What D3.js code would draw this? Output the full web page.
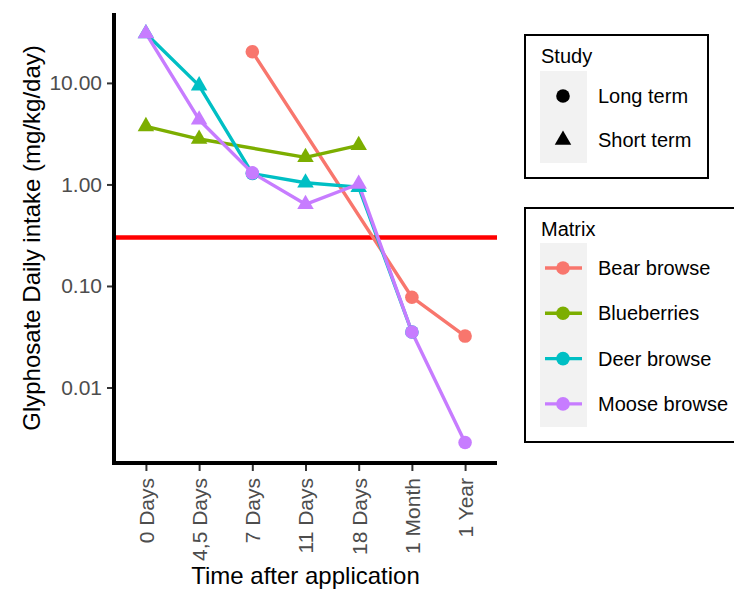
<!DOCTYPE html>
<html lang="en">
<head>
<meta charset="utf-8">
<script src="https://cdn.jsdelivr.net/npm/d3@7"></script>
<style type="text/css">
body {
	margin: 0;
	background: #fff;
	font-family: "Liberation Sans", Arial, sans-serif;
}
</style>
</head>
<body>
<script type="text/javascript">

// categories on the x axis and which study each time point comes from
var times = ["0 Days", "4,5 Days", "7 Days", "11 Days", "18 Days", "1 Month", "1 Year"];
var study = ["Short term", "Short term", "Long term", "Short term", "Short term", "Long term", "Long term"];

// series values (null = no measurement)
var matrices = ["Bear browse", "Blueberries", "Deer browse", "Moose browse"];
var bearBrowse  = [null, null, 20.3, null, null, 0.0775, 0.0321];
var blueberries = [3.73, 2.8, null, 1.85, 2.43, null, null];
var deerBrowse  = [30.7, 9.4, 1.28, 1.04, 0.94, 0.0352, null];
var mooseBrowse = [30.7, 4.34, 1.30, 0.637, 1.01, 0.0352, 0.00287];

var yTicks = [10, 1, 0.1, 0.01];
var limit = 0.3;   // red reference line

var colors = ["#F8766D", "#7CAE00", "#00BFC4", "#C77CFF"];
var allSeries = [bearBrowse, blueberries, deerBrowse, mooseBrowse];

var width = 734;
var height = 590;

// panel edges
var pLeft = 114, pRight = 497, pTop = 13, pBottom = 463;

var svg = d3.select("body")
			.append("svg")
			.attr("width", width)
			.attr("height", height);

var x = d3.scalePoint()
		  .domain(times)
		  .range([pLeft, pRight])
		  .padding(0.6);

// log scale, ggplot style 5% expansion of data range
var allVals = [].concat(bearBrowse, blueberries, deerBrowse, mooseBrowse).filter(v => v != null);
var lmin = Math.log10(d3.min(allVals)), lmax = Math.log10(d3.max(allVals));
var pad = (lmax - lmin) * 0.05;
var y = d3.scaleLog()
		  .domain([Math.pow(10, lmin - pad), Math.pow(10, lmax + pad)])
		  .range([pBottom, pTop]);

// reference line
svg.append("line")
	.attr("x1", pLeft).attr("x2", pRight)
	.attr("y1", y(limit)).attr("y2", y(limit))
	.style("stroke", "#FF0000")
	.style("stroke-width", 4.5);

// one line per matrix, skipping missing values
var line = d3.line()
	.defined(d => d.v != null)
	.x(d => x(d.t))
	.y(d => y(d.v));

var seriesData = allSeries.map(function(vals, i) {
	return {
		name: matrices[i],
		color: colors[i],
		points: vals.map((v, j) => ({t: times[j], v: v, study: study[j]})).filter(d => d.v != null)
	};
});

svg.selectAll("path.series")
	.data(seriesData)
	.enter()
	.append("path")
	.attr("class", "series")
	.attr("d", d => line(d.points))
	.style("fill", "none")
	.style("stroke", d => d.color)
	.style("stroke-width", 3.4)
	.style("stroke-linejoin", "round");

var circleSym = d3.symbol().type(d3.symbolCircle).size(145);
var triSym = d3.symbol().type(d3.symbolTriangle).size(118);

seriesData.forEach(function(s) {
	svg.append("g")
		.selectAll("path")
		.data(s.points)
		.enter()
		.append("path")
		.attr("transform", d => "translate(" + x(d.t) + "," + y(d.v) + ")")
		.attr("d", d => d.study == "Long term" ? circleSym() : triSym())
		.style("fill", s.color);
});

// axes
var yAxis = d3.axisLeft(y)
	.tickValues(yTicks)
	.tickFormat(d3.format(".2f"))
	.tickSize(6)
	.tickPadding(5);

var gy = svg.append("g")
	.attr("transform", "translate(" + (pLeft - 1) + ",0)")
	.call(yAxis);
gy.select(".domain").remove();
gy.selectAll(".tick line").style("stroke", "#333").style("stroke-width", 2);
gy.selectAll(".tick text")
	.style("font-size", "21px")
	.style("fill", "#4D4D4D")
	.style("font-family", "Liberation Sans, Arial, sans-serif");

var xAxis = d3.axisBottom(x).tickSize(7).tickPadding(0);
var gx = svg.append("g")
	.attr("transform", "translate(0," + (pBottom + 1) + ")")
	.call(xAxis);
gx.select(".domain").remove();
gx.selectAll(".tick line").style("stroke", "#333").style("stroke-width", 2);
gx.selectAll(".tick text")
	.attr("transform", "translate(0,14) rotate(-90)")
	.attr("x", 0)
	.attr("y", 0)
	.attr("dy", "0.35em")
	.style("text-anchor", "end")
	.style("font-size", "21px")
	.style("fill", "#4D4D4D")
	.style("font-family", "Liberation Sans, Arial, sans-serif");

// thick axis lines
svg.append("line")
	.attr("x1", pLeft).attr("x2", pLeft)
	.attr("y1", pTop).attr("y2", pBottom + 2)
	.style("stroke", "#000").style("stroke-width", 4);
svg.append("line")
	.attr("x1", pLeft - 2).attr("x2", pRight)
	.attr("y1", pBottom).attr("y2", pBottom)
	.style("stroke", "#000").style("stroke-width", 4);

// axis titles
svg.append("text")
	.attr("x", (pLeft + pRight) / 2)
	.attr("y", 584)
	.attr("text-anchor", "middle")
	.style("font-size", "24px")
	.text("Time after application");

svg.append("text")
	.attr("transform", "translate(40," + ((pTop + pBottom) / 2) + ") rotate(-90)")
	.attr("text-anchor", "middle")
	.style("font-size", "24px")
	.text("Glyphosate Daily intake (mg/kg/day)");

// legends
function legendBox(x0, y0, w, h, title) {
	var g = svg.append("g").attr("transform", "translate(" + x0 + "," + y0 + ")");
	g.append("rect")
		.attr("width", w).attr("height", h)
		.style("fill", "#fff")
		.style("stroke", "#000")
		.style("stroke-width", 2);
	g.append("text")
		.attr("x", 16).attr("y", 28)
		.style("font-size", "20px")
		.text(title);
	return g;
}

var studyKeys = ["Long term", "Short term"];
var g1 = legendBox(525, 35, 183, 143, "Study");
g1.append("rect")
	.attr("x", 15).attr("y", 36).attr("width", 47).attr("height", 92)
	.style("fill", "#F2F2F2");
studyKeys.forEach(function(k, i) {
	var yy = 61 + i * 44;
	g1.append("path")
		.attr("transform", "translate(38," + yy + ")")
		.attr("d", k == "Long term" ? circleSym() : triSym())
		.style("fill", "#000");
	g1.append("text")
		.attr("x", 73).attr("y", yy).attr("dy", "0.35em")
		.style("font-size", "20px")
		.text(k);
});

var g2 = legendBox(525, 208, 230, 234, "Matrix");
g2.append("rect")
	.attr("x", 15).attr("y", 35).attr("width", 47).attr("height", 184)
	.style("fill", "#F2F2F2");
matrices.forEach(function(k, i) {
	var yy = 60 + i * 45.3;
	g2.append("line")
		.attr("x1", 20).attr("x2", 57)
		.attr("y1", yy).attr("y2", yy)
		.style("stroke", colors[i]).style("stroke-width", 3.4);
	g2.append("path")
		.attr("transform", "translate(38," + yy + ")")
		.attr("d", circleSym())
		.style("fill", colors[i]);
	g2.append("text")
		.attr("x", 73).attr("y", yy).attr("dy", "0.35em")
		.style("font-size", "20px")
		.text(k);
});

</script>
</body>
</html>
